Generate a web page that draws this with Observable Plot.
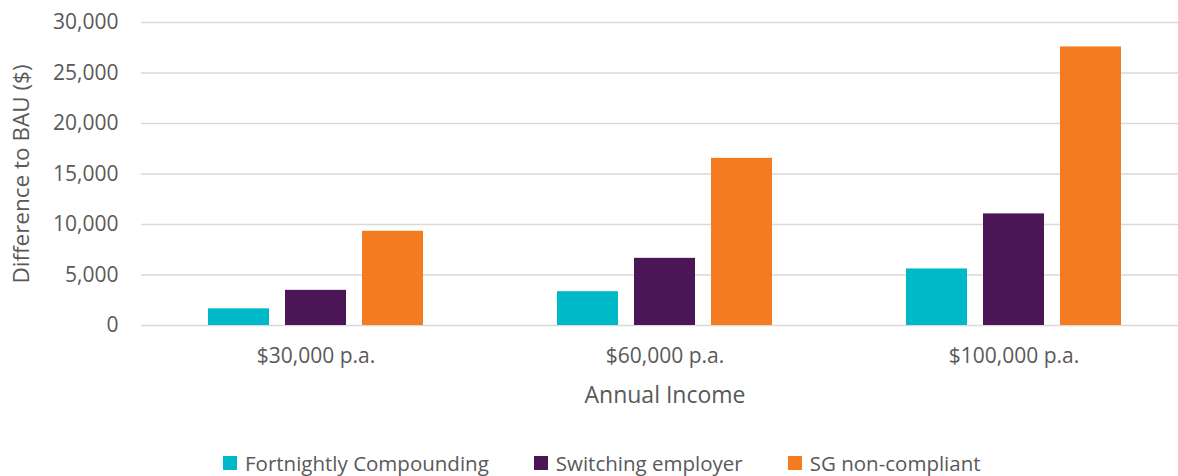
<!DOCTYPE html>
<html>
<head>
<meta charset="utf-8">
<script src="https://cdn.jsdelivr.net/npm/d3@7"></script>
<script src="https://cdn.jsdelivr.net/npm/@observablehq/plot@0.6"></script>
<style>
  body { margin: 0; background: white; width: 1178px; height: 476px; position: relative; overflow: hidden; }
  #chart svg { display: block; }
  #legend { position: absolute; top: 453px; left: 223px; display: flex; gap: 45px;
            font-family: "Open Sans", sans-serif; font-size: 20.5px; line-height: 20px; color: #595959; white-space: nowrap; }
  .item { display: flex; align-items: center; }
  .sw { width: 14px; height: 14px; margin-right: 8px; }
</style>
</head>
<body>
<div id="chart"></div>
<div id="legend"></div>
<script>
const categories = ["$30,000 p.a.", "$60,000 p.a.", "$100,000 p.a."];
const series = ["Fortnightly Compounding", "Switching employer", "SG non-compliant"];
const fortnightly = [1650, 3350, 5600];
const switching = [3480, 6650, 11050];
const sgNonCompliant = [9330, 16550, 27580];
const colors = ["#00B9C8", "#4A1656", "#F47B20"];
const yTicks = [0, 5000, 10000, 15000, 20000, 25000, 30000];

const seriesValues = [fortnightly, switching, sgNonCompliant];
const data = [];
categories.forEach((c, i) => {
  series.forEach((s, j) => data.push({income: c, series: s, value: seriesValues[j][i]}));
});

const chart = Plot.plot({
  width: 1178,
  height: 440,
  marginTop: 22,
  marginBottom: 115,
  marginLeft: 141,
  marginRight: 0,
  style: {fontFamily: "Open Sans", fontSize: "21px", color: "#595959", background: "white"},
  fx: {domain: categories, range: [141, 1188], padding: 0},
  x: {domain: series, paddingInner: 0.213, paddingOuter: 0.858, axis: null},
  y: {domain: [0, 30000]},
  color: {domain: series, range: colors},
  marks: [
    Plot.gridY(yTicks, {stroke: "#d9d9d9", strokeOpacity: 1, strokeWidth: 1.5}),
    Plot.barY(data, {fx: "income", x: "series", y: "value", fill: "series"}),
    Plot.axisY(yTicks, {tickSize: 0, tickPadding: 23, tickFormat: d3.format(","), label: null, fontSize: 21}),
    Plot.axisY([], {label: "Difference to BAU ($)", labelAnchor: "center", labelOffset: 128, labelArrow: "none", fontSize: 22.5}),
    Plot.axisFx({anchor: "bottom", tickSize: 0, tickPadding: 23, label: null, fontSize: 21}),
    Plot.axisFx([], {anchor: "bottom", label: "Annual Income", labelAnchor: "center", labelOffset: 77, labelArrow: "none", fontSize: 23})
  ]
});
document.getElementById("chart").appendChild(chart);

const legend = document.getElementById("legend");
series.forEach((s, j) => {
  const item = document.createElement("div");
  item.className = "item";
  const sw = document.createElement("div");
  sw.className = "sw";
  sw.style.background = colors[j];
  const t = document.createElement("span");
  t.textContent = s;
  item.appendChild(sw);
  item.appendChild(t);
  legend.appendChild(item);
});
</script>
</body>
</html>
